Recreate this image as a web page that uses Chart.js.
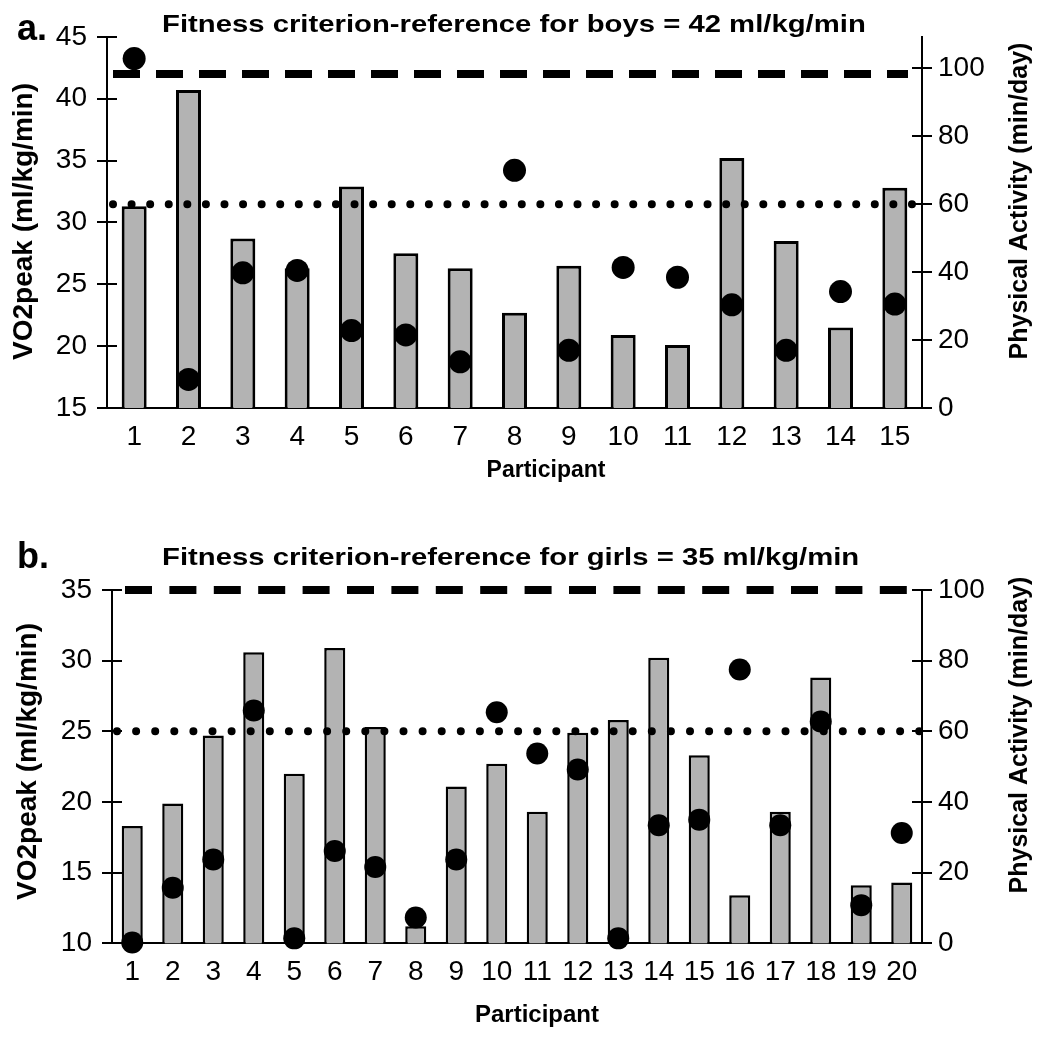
<!DOCTYPE html>
<html><head><meta charset="utf-8">
<script src="https://cdn.jsdelivr.net/npm/chart.js@4.4.1/dist/chart.umd.min.js"></script>
<style>
html,body{margin:0;padding:0;background:#fff;}
#wrap{position:relative;width:1050px;height:1041px;background:#fff;}
.panel{position:absolute;left:0;width:1050px;}
#pa{top:0;height:500px;}
#pb{top:500px;height:541px;}
</style></head><body>
<div id="wrap">
<div class="panel" id="pa"><canvas id="ca" width="1050" height="500"></canvas></div>
<div class="panel" id="pb"><canvas id="cb" width="1050" height="541"></canvas></div>
</div>
<script>
// ---------- DATA ----------
const boysParticipants = ['1','2','3','4','5','6','7','8','9','10','11','12','13','14','15'];
const boysVO2peak = [31.3, 40.7, 28.7, 26.3, 32.9, 27.5, 26.3, 22.7, 26.5, 20.9, 20.1, 35.2, 28.5, 21.5, 32.8];
const boysPA = [102.9, 8.4, 39.8, 40.5, 22.8, 21.5, 13.6, 70.0, 17.0, 41.4, 38.5, 30.4, 17.0, 34.3, 30.6];
const boysVO2Ticks = [15, 20, 25, 30, 35, 40, 45];
const boysPATicks = [0, 20, 40, 60, 80, 100];
const boysCriterion = 42;

const girlsParticipants = ['1','2','3','4','5','6','7','8','9','10','11','12','13','14','15','16','17','18','19','20'];
const girlsVO2peak = [18.3, 19.9, 24.7, 30.6, 22.0, 30.9, 25.3, 11.2, 21.1, 22.7, 19.3, 24.9, 25.8, 30.2, 23.3, 13.4, 19.3, 28.8, 14.1, 14.3];
const girlsPA = [0.2, 15.7, 23.7, 65.9, 1.4, 26.1, 21.6, 7.3, 23.7, 65.4, 53.7, 49.2, 1.4, 33.4, 35.0, 77.5, 33.4, 62.8, 10.8, 31.2];
const girlsVO2Ticks = [10, 15, 20, 25, 30, 35];
const girlsPATicks = [0, 20, 40, 60, 80, 100];
const girlsCriterion = 35;

const paGuideline = 60;

const titleA = 'Fitness criterion-reference for boys = 42 ml/kg/min';
const titleB = 'Fitness criterion-reference for girls = 35 ml/kg/min';
const xTitle = 'Participant';
const yLeftTitle = 'VO2peak (ml/kg/min)';
const yRightTitle = 'Physical Activity (min/day)';

// ---------- STYLE / LAYOUT ----------
const FONT = '"Liberation Sans", Arial, Helvetica, sans-serif';
const BAR_FILL = '#b3b3b3';

const decor = {
  id: 'decor',
  afterDatasetDraw(chart, args, o) {
    if (args.index !== 0) return;
    const ctx = chart.ctx;
    const yl = chart.scales.y, yr = chart.scales.y1;
    ctx.save();
    // dashed criterion line (left axis)
    const yd = yl.getPixelForValue(o.criterion);
    ctx.strokeStyle = '#000';
    ctx.lineWidth = 8;
    ctx.lineCap = 'butt';
    ctx.setLineDash(o.dash);
    ctx.beginPath(); ctx.moveTo(o.dashX0, yd); ctx.lineTo(o.dashX1, yd); ctx.stroke();
    // dotted guideline (right axis)
    const yg = yr.getPixelForValue(o.guideline);
    ctx.lineWidth = 8;
    ctx.lineCap = 'round';
    ctx.setLineDash([0.01, o.dotPeriod - 0.01]);
    ctx.beginPath(); ctx.moveTo(o.dotX0, yg); ctx.lineTo(o.dotX1 + 0.5, yg); ctx.stroke();
    ctx.restore();
  },
  afterDraw(chart, args, o) {
    const ctx = chart.ctx;
    const yl = chart.scales.y, yr = chart.scales.y1;
    const area = chart.chartArea;
    ctx.save();
    ctx.setLineDash([]);
    ctx.strokeStyle = '#000';
    ctx.lineWidth = 2;
    // crossing tick marks
    yl.ticks.forEach(t => {
      const y = Math.round(yl.getPixelForValue(t.value));
      ctx.beginPath(); ctx.moveTo(area.left - 10, y); ctx.lineTo(area.left + 10, y); ctx.stroke();
    });
    yr.ticks.forEach(t => {
      const y = Math.round(yr.getPixelForValue(t.value));
      ctx.beginPath(); ctx.moveTo(area.right - 10, y); ctx.lineTo(area.right + 10, y); ctx.stroke();
    });
    ctx.fillStyle = '#000';
    // panel letter
    ctx.textAlign = 'left'; ctx.textBaseline = 'alphabetic';
    ctx.font = 'bold 36px ' + FONT;
    ctx.fillText(o.panel, 17, o.panelY);
    // title (slightly widened)
    ctx.save();
    ctx.translate(o.titleX, o.titleY);
    ctx.scale(1.22, 1);
    ctx.font = 'bold 24px ' + FONT;
    ctx.fillText(o.title, 0, 0);
    ctx.restore();
    // x title
    ctx.textAlign = 'center';
    ctx.font = 'bold ' + o.xTitleSize + 'px ' + FONT;
    ctx.fillText(xTitle, o.xTitleX, o.xTitleY);
    // left y title
    ctx.save();
    ctx.translate(o.yLX, o.yLY); ctx.rotate(-Math.PI / 2);
    ctx.textBaseline = 'middle';
    ctx.font = 'bold 28px ' + FONT;
    ctx.fillText(yLeftTitle, 0, 0);
    ctx.restore();
    // right y title (reads bottom to top)
    ctx.save();
    ctx.translate(o.yRX, o.yRY); ctx.rotate(-Math.PI / 2);
    ctx.textBaseline = 'middle';
    ctx.font = 'bold 25px ' + FONT;
    ctx.fillText(yRightTitle, 0, 0);
    ctx.restore();
    ctx.restore();
  }
};

function makeChart(id, d, g) {
  const tickFont = { family: FONT, size: 28 };
  return new Chart(document.getElementById(id), {
    data: {
      labels: d.labels,
      datasets: [
        { type: 'bar', data: d.bars, yAxisID: 'y', order: 1,
          backgroundColor: BAR_FILL, borderColor: '#000', borderWidth: g.barBorder,
          borderSkipped: false, barPercentage: g.barPct, categoryPercentage: 1 },
        { type: 'line', data: d.dots, yAxisID: 'y1', order: 0, showLine: false, clip: false,
          pointRadius: g.dotR, pointHoverRadius: g.dotR, pointBackgroundColor: '#000',
          pointBorderWidth: 0, borderColor: '#000' }
      ]
    },
    options: {
      responsive: false, animation: false,
      layout: { padding: { top: g.top, left: 0, right: 0, bottom: 0 } },
      plugins: { legend: { display: false }, tooltip: { enabled: false }, decor: g.decor },
      scales: {
        x: { type: 'category', position: 'bottom', offset: true,
             grid: { display: false, drawTicks: false },
             border: { display: true, color: '#000', width: 2 },
             ticks: { font: tickFont, color: '#000', padding: g.xPad, autoSkip: false, maxRotation: 0 },
             afterFit: s => { s.height = g.xH; } },
        y: { type: 'linear', position: 'left', min: d.leftTicks[0], max: d.leftTicks[d.leftTicks.length - 1],
             grid: { display: false, drawTicks: false },
             border: { display: true, color: '#000', width: 2 },
             ticks: { font: tickFont, color: '#000', padding: 20 },
             afterBuildTicks: s => { s.ticks = d.leftTicks.map(v => ({ value: v })); },
             afterFit: s => { s.width = g.leftW; } },
        y1: { type: 'linear', position: 'right', min: d.rightTicks[0], max: g.rightMax,
             grid: { display: false, drawTicks: false },
             border: { display: true, color: '#000', width: 2 },
             ticks: { font: tickFont, color: '#000', padding: 16 },
             afterBuildTicks: s => { s.ticks = d.rightTicks.map(v => ({ value: v })); },
             afterFit: s => { s.width = 128; } }
      }
    },
    plugins: [decor]
  });
}

makeChart('ca',
  { labels: boysParticipants, bars: boysVO2peak, dots: boysPA, leftTicks: boysVO2Ticks, rightTicks: boysPATicks },
  { top: 33, xH: 92, leftW: 107, rightMax: 109.3, barPct: 0.46, barBorder: 3, dotR: 11.5, xPad: 12,
    decor: { criterion: boysCriterion, guideline: paGuideline,
      dash: [27, 16], dashX0: 113, dashX1: 908, dotPeriod: 18.58, dotX0: 113, dotX1: 912,
      panel: 'a.', panelY: 40, title: titleA, titleX: 162, titleY: 32,
      xTitleSize: 23, xTitleX: 546, xTitleY: 477, yLX: 24, yLY: 221.5, yRX: 1020, yRY: 201 } });

makeChart('cb',
  { labels: girlsParticipants, bars: girlsVO2peak, dots: girlsPA, leftTicks: girlsVO2Ticks, rightTicks: girlsPATicks },
  { top: 90, xH: 97.7, leftW: 112, rightMax: 100, barPct: 0.52, barBorder: 2.5, dotR: 11, xPad: 12,
    decor: { criterion: girlsCriterion, guideline: paGuideline,
      dash: [27, 17.4], dashX0: 125, dashX1: 908, dotPeriod: 19.1, dotX0: 117, dotX1: 919,
      panel: 'b.', panelY: 68, title: titleB, titleX: 162, titleY: 65,
      xTitleSize: 24, xTitleX: 537, xTitleY: 521.5, yLX: 28, yLY: 261.5, yRX: 1020, yRY: 235 } });
</script>
</body></html>
